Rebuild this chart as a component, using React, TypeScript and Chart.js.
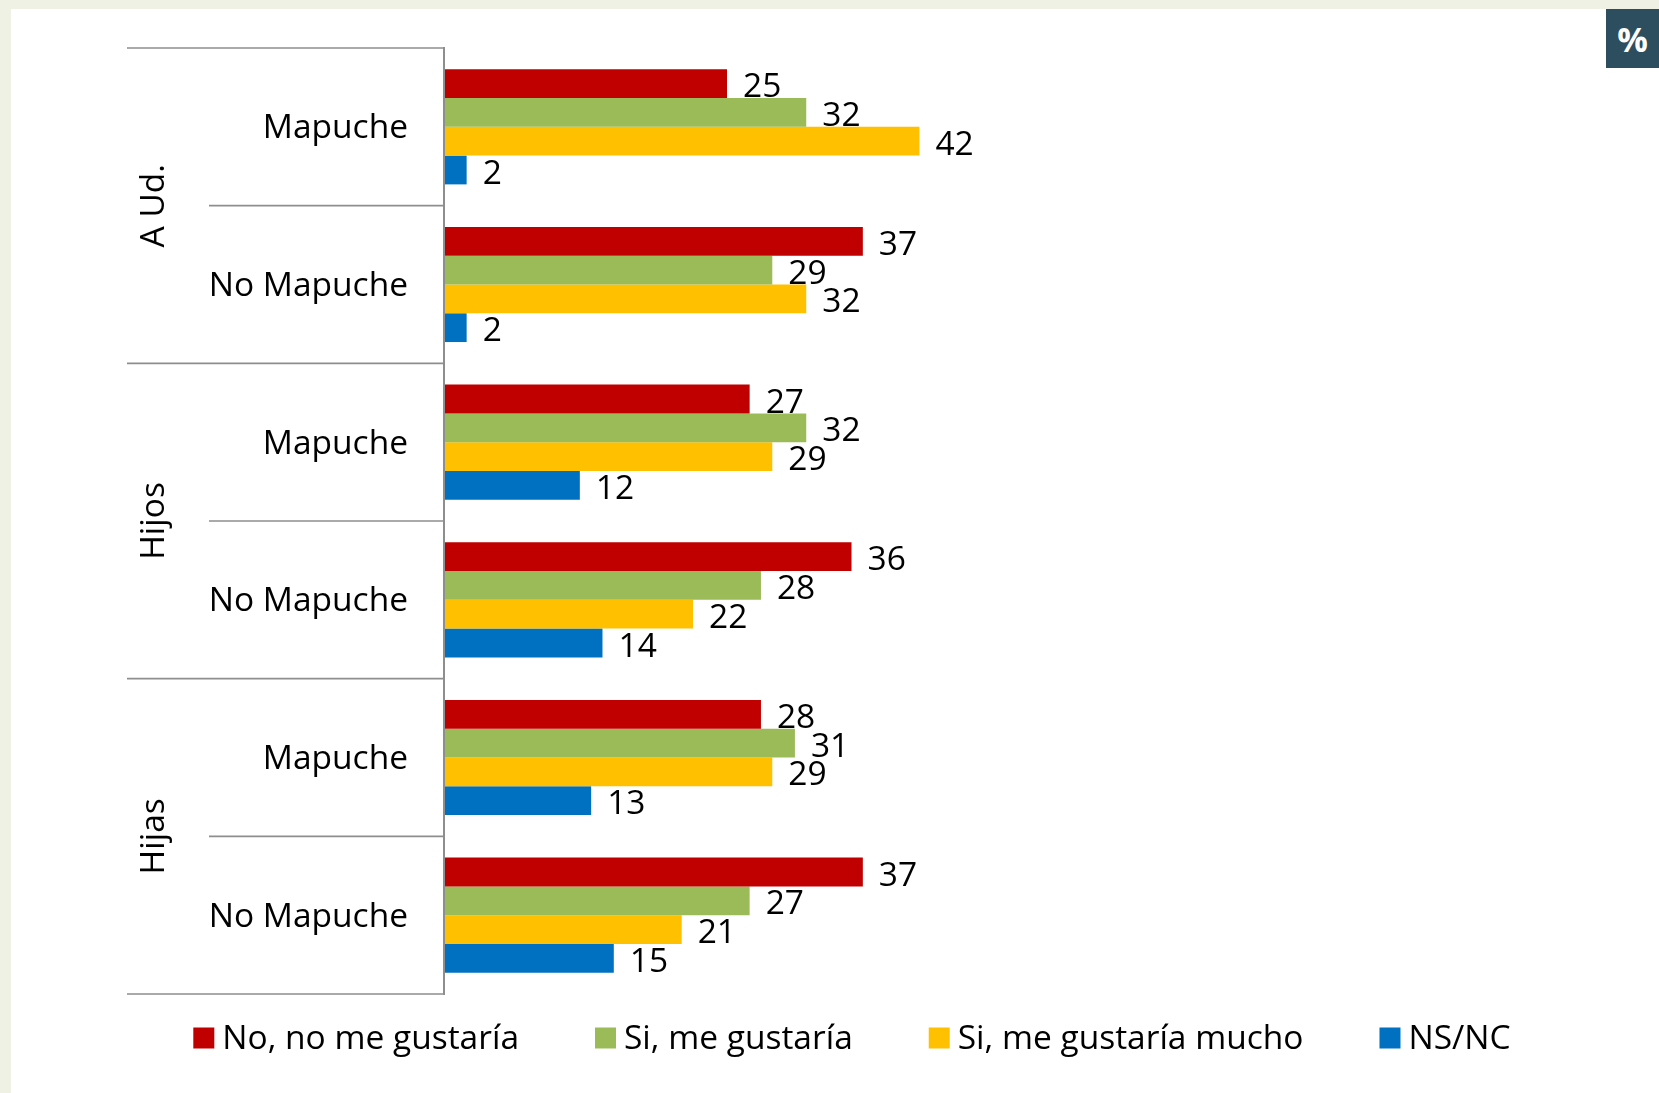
import React, { useEffect, useRef } from "react";
import { Chart, registerables } from "chart.js";
Chart.register(...registerables);

const categories = ["Mapuche", "No Mapuche", "Mapuche", "No Mapuche", "Mapuche", "No Mapuche"];
const groups = ["A Ud.", "Hijos", "Hijas"];
const seriesNames = ["No, no me gustaría", "Si, me gustaría", "Si, me gustaría mucho", "NS/NC"];
const noValues = [25, 37, 27, 36, 28, 37];
const siValues = [32, 29, 32, 28, 31, 27];
const muchoValues = [42, 32, 29, 22, 29, 21];
const nsncValues = [2, 2, 12, 14, 13, 15];
const seriesColors = ["#c00000", "#9bbb59", "#ffc000", "#0070c0"];

const FONT = "'Open Sans', sans-serif";
const FONT_SIZE = 33.5;

const decorPlugin = {
  id: "decor",
  afterDraw(chart: any) {
    const ctx = chart.ctx as CanvasRenderingContext2D;
    const yScale = chart.scales.y;
    const area = chart.chartArea;
    const n = categories.length;
    ctx.save();

    // boundaries between categories
    const bounds: number[] = [];
    for (let i = 0; i <= n; i++) {
      if (i === 0) bounds.push(area.top);
      else if (i === n) bounds.push(area.bottom);
      else bounds.push((yScale.getPixelForValue(i - 1) + yScale.getPixelForValue(i)) / 2);
    }
    ctx.strokeStyle = "#8e8e8e";
    ctx.lineWidth = 1.6;
    bounds.forEach((p, i) => {
      const x0 = i % 2 === 0 ? 127 : 209;
      ctx.beginPath();
      ctx.moveTo(x0, p);
      ctx.lineTo(area.left, p);
      ctx.stroke();
    });
    // vertical axis
    ctx.lineWidth = 2;
    ctx.beginPath();
    ctx.moveTo(area.left, area.top - 1);
    ctx.lineTo(area.left, area.bottom + 1);
    ctx.stroke();

    // group labels
    ctx.fillStyle = "#000";
    ctx.font = `${FONT_SIZE}px ${FONT}`;
    ctx.textAlign = "center";
    ctx.textBaseline = "middle";
    groups.forEach((g, gi) => {
      const cy = (bounds[gi * 2] + bounds[gi * 2 + 2]) / 2;
      ctx.save();
      ctx.translate(154, cy);
      ctx.rotate(-Math.PI / 2);
      ctx.fillText(g, 0, 0);
      ctx.restore();
    });

    // value labels
    ctx.textAlign = "left";
    chart.data.datasets.forEach((ds: any, di: number) => {
      const meta = chart.getDatasetMeta(di);
      meta.data.forEach((el: any, j: number) => {
        ctx.fillText(String(ds.data[j]), el.x + 16, el.y + 4);
      });
    });

    // legend
    const boxSize = 21;
    const textGap = 8;
    const itemGap = 76;
    const widths = seriesNames.map((s) => ctx.measureText(s).width);
    const total = widths.reduce((a, w) => a + boxSize + textGap + w, 0) + itemGap * (seriesNames.length - 1);
    let x = 852 - total / 2;
    const ly = 1038;
    seriesNames.forEach((s, i) => {
      ctx.fillStyle = seriesColors[i];
      ctx.fillRect(x, ly - boxSize / 2, boxSize, boxSize);
      ctx.fillStyle = "#000";
      ctx.fillText(s, x + boxSize + textGap, ly + 1);
      x += boxSize + textGap + widths[i] + itemGap;
    });

    ctx.restore();
  },
};

export default function App() {
  const ref = useRef<HTMLCanvasElement | null>(null);
  useEffect(() => {
    if (!ref.current) return;
    const chart = new Chart(ref.current, {
      type: "bar",
      data: {
        labels: categories,
        datasets: [noValues, siValues, muchoValues, nsncValues].map((d, i) => ({
          label: seriesNames[i],
          data: d,
          backgroundColor: seriesColors[i],
          borderWidth: 0,
          categoryPercentage: 0.73,
          barPercentage: 1.0,
        })),
      },
      options: {
        indexAxis: "y",
        responsive: false,
        animation: false,
        layout: { padding: { left: 0, top: 48, right: 83, bottom: 99 } },
        plugins: { legend: { display: false }, tooltip: { enabled: false } },
        scales: {
          x: { display: false, min: 0, max: 100 },
          y: {
            grid: { display: false, drawTicks: false },
            border: { display: false },
            ticks: {
              color: "#000",
              padding: 36,
              labelOffset: 2,
              font: { family: FONT, size: FONT_SIZE },
            },
            afterFit: (s: any) => {
              s.width = 444;
              s.paddingTop = 0;
              s.paddingBottom = 0;
            },
          },
        },
      },
      plugins: [decorPlugin],
    });
    return () => chart.destroy();
  }, []);

  return (
    <div
      style={{
        position: "absolute",
        left: 0,
        top: 0,
        width: 1659,
        height: 1093,
        background: "#eef1e3",
        overflow: "hidden",
      }}
    >
      <div style={{ position: "absolute", left: 11, top: 9, right: 0, bottom: 0, background: "#fff" }} />
      <canvas ref={ref} width={1659} height={1093} style={{ position: "absolute", left: 0, top: 0 }} />
      <div
        style={{
          position: "absolute",
          left: 1606,
          top: 9,
          width: 53,
          height: 59,
          background: "#2c4e5e",
          color: "#fff",
          fontFamily: "'Open Sans', sans-serif",
          fontWeight: 700,
          fontSize: 34,
          display: "flex",
          alignItems: "center",
          justifyContent: "center",
        }}
      >
        %
      </div>
    </div>
  );
}
